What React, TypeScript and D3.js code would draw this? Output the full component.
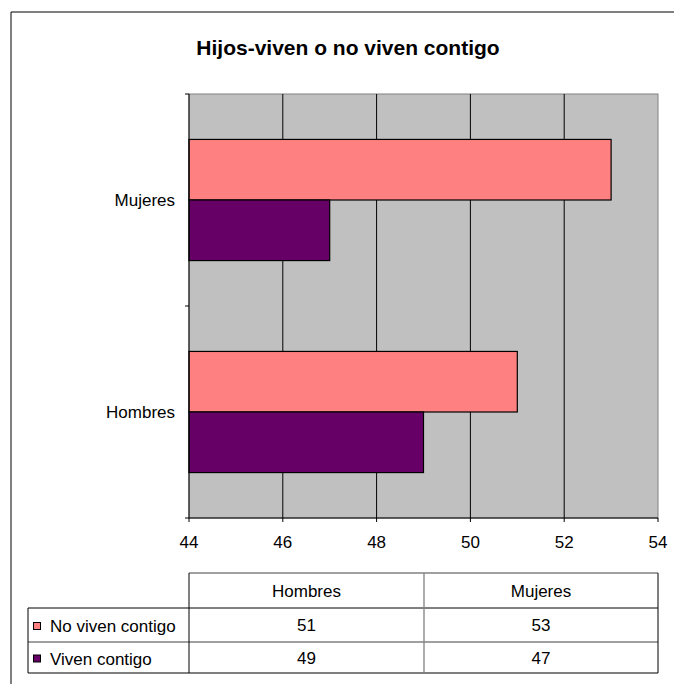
import * as d3 from 'd3';

const categories = ['Mujeres', 'Hombres'];
const seriesNames = ['No viven contigo', 'Viven contigo'];
const noViven = [53, 51]; // Mujeres, Hombres
const viven = [47, 49];
const xTicks = [44, 46, 48, 50, 52, 54];
const tableCols = ['Hombres', 'Mujeres'];
const colors = ['#ff8080', '#660066'];

export default function App() {
    const width = 674;
    const height = 684;
    const plot = { left: 189, right: 658, top: 94, bottom: 518 };
    const font = 'Liberation Sans, Arial, sans-serif';

    const x = d3.scaleLinear().domain([44, 54]).range([plot.left, plot.right]);
    const y = d3.scaleBand().domain(categories).range([plot.top, plot.bottom]);
    const inner = d3.scaleBand().domain(seriesNames).range([0, y.bandwidth()]).paddingOuter(0.75);

    const values = [noViven, viven];

    // table geometry
    const rows = [573, 608, 642, 673];
    const colX = [28, plot.left, 424, plot.right];

    return (
        <svg width={width} height={height} style={{ position: 'absolute', left: 0, top: 0, background: '#fff', overflow: 'hidden' }} fontFamily={font}>
            {/* chart frame (only top & left visible) */}
            <line x1={11} x2={width} y1={12} y2={12} stroke="#000" />
            <line x1={11} x2={11} y1={12} y2={height} stroke="#000" />
            <text x={348} y={55} textAnchor="middle" fontSize={21} fontWeight="bold">Hijos-viven o no viven contigo</text>

            <rect x={plot.left} y={plot.top} width={plot.right - plot.left} height={plot.bottom - plot.top} fill="#c0c0c0" stroke="#808080" />
            {xTicks.slice(1, -1).map((t) => (
                <line key={t} x1={x(t)} x2={x(t)} y1={plot.top} y2={plot.bottom} stroke="#000" strokeWidth={1} />
            ))}

            {categories.map((c, ci) =>
                seriesNames.map((s, si) => (
                    <rect
                        key={c + s}
                        x={x(44)}
                        y={y(c)! + inner(s)!}
                        width={x(values[si][ci]) - x(44)}
                        height={inner.bandwidth()}
                        fill={colors[si]}
                        stroke="#000"
                        strokeWidth={1.2}
                    />
                ))
            )}

            {/* y axis */}
            <line x1={plot.left} x2={plot.left} y1={plot.top} y2={plot.bottom} stroke="#000" />
            {[plot.top, y('Hombres')!, plot.bottom].map((v, i) => (
                <line key={i} x1={plot.left - 4} x2={plot.left} y1={v} y2={v} stroke="#000" />
            ))}
            {categories.map((c) => (
                <text key={c} x={175} y={y(c)! + y.bandwidth() / 2 + 6} textAnchor="end" fontSize={17}>{c}</text>
            ))}

            {/* x axis */}
            <line x1={plot.left} x2={plot.right} y1={plot.bottom} y2={plot.bottom} stroke="#000" />
            {xTicks.map((t) => (
                <g key={t}>
                    <line x1={x(t)} x2={x(t)} y1={plot.bottom} y2={plot.bottom + 4} stroke="#000" />
                    <text x={x(t)} y={plot.bottom + 30} textAnchor="middle" fontSize={17}>{t}</text>
                </g>
            ))}

            {/* data table */}
            <g stroke="#808080" strokeWidth={1.3}>
                <line x1={colX[1]} x2={colX[3]} y1={rows[0]} y2={rows[0]} />
                <line x1={colX[0]} x2={colX[3]} y1={rows[1]} y2={rows[1]} stroke="#000" strokeWidth={1} />
                <line x1={colX[0]} x2={colX[3]} y1={rows[2]} y2={rows[2]} />
                <line x1={colX[0]} x2={colX[3]} y1={rows[3]} y2={rows[3]} stroke="#000" strokeWidth={1} />
                <line x1={colX[0]} x2={colX[0]} y1={rows[1]} y2={rows[3]} stroke="#000" strokeWidth={1} />
                <line x1={colX[1]} x2={colX[1]} y1={rows[0]} y2={rows[3]} stroke="#000" strokeWidth={1} />
                <line x1={colX[2]} x2={colX[2]} y1={rows[0]} y2={rows[3]} />
                <line x1={colX[3]} x2={colX[3]} y1={rows[0]} y2={rows[3]} stroke="#000" strokeWidth={1} />
            </g>
            {tableCols.map((c, i) => (
                <text key={c} x={(colX[i + 1] + colX[i + 2]) / 2} y={(rows[0] + rows[1]) / 2 + 6} textAnchor="middle" fontSize={17}>{c}</text>
            ))}
            {seriesNames.map((s, si) => {
                const cy = (rows[si + 1] + rows[si + 2]) / 2;
                return (
                    <g key={s}>
                        <rect x={33.5} y={cy - 2.5} width={7} height={7} fill={colors[si]} stroke="#000" />
                        <text x={50} y={cy + 7} fontSize={17}>{s}</text>
                        {tableCols.map((c, ci) => (
                            <text key={c} x={(colX[ci + 1] + colX[ci + 2]) / 2} y={cy + 6} textAnchor="middle" fontSize={17}>
                                {values[si][categories.indexOf(c)]}
                            </text>
                        ))}
                    </g>
                );
            })}
        </svg>
    );
}
